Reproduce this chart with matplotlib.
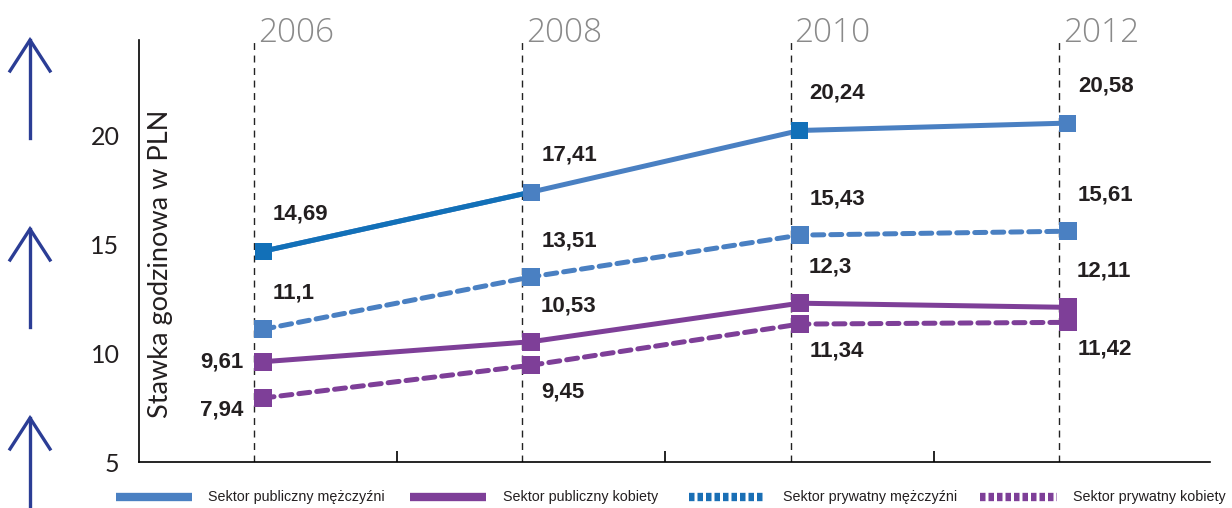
import matplotlib.pyplot as plt
from matplotlib.lines import Line2D
import numpy as np

years = [2006, 2008, 2010, 2012]
pub_men = [14.69, 17.41, 20.24, 20.58]
priv_men = [11.1, 13.51, 15.43, 15.61]
pub_women = [9.61, 10.53, 12.3, 12.11]
priv_women = [7.94, 9.45, 11.34, 11.42]

series_labels = ['Sektor publiczny mężczyźni', 'Sektor publiczny kobiety',
                 'Sektor prywatny mężczyźni', 'Sektor prywatny kobiety']
y_ticks = [5, 10, 15, 20]

BLUE = '#4a80c2'
BLUE_DARK = '#1270b8'
PURPLE = '#7e3f98'
NAVY = '#2b3d95'
NARROW = ['Liberation Sans', 'DejaVu Sans']
REG = ['Lato', 'DejaVu Sans']

W, H = 1232, 508
fig = plt.figure(figsize=(W / 100, H / 100), dpi=100)
ax = fig.add_axes([139 / W, 1 - 462 / H, (1210 - 139) / W, (462 - 40) / H])


def fmt(v):
    return ('%g' % v).replace('.', ',')


ax.set_xlim(2006 - 0.925, 2013.06)
ax.set_ylim(5, 24.4)

# vertical year guides + year labels
shift = 0.067
for yr in years:
    ax.axvline(yr - shift, color='#222222', lw=1, ls=(0, (5, 4)), zorder=1)
    ax.text(yr - shift + 0.03, 0.995, str(yr), transform=ax.get_xaxis_transform(),
            ha='left', va='baseline', fontsize=24, color='#8a8a8a',
            family=['Open Sans', 'DejaVu Sans'], fontweight='light')

dash = (0, (2.2, 1.4))
ax.plot(years, pub_men, color=BLUE, lw=3.6, zorder=3)
ax.plot(years[:2], pub_men[:2], color=BLUE_DARK, lw=3.6, zorder=3)
ax.plot(years, priv_men, color=BLUE, lw=3.6, ls=dash, dash_capstyle='round', zorder=3)
ax.plot(years, pub_women, color=PURPLE, lw=3.6, zorder=3)
ax.plot(years, priv_women, color=PURPLE, lw=3.6, ls=dash, dash_capstyle='round', zorder=3)

mcol = [BLUE_DARK, BLUE, BLUE_DARK, BLUE]
ax.scatter(years, pub_men, marker='s', s=150, c=mcol, zorder=4, linewidths=0)
ax.scatter(years, priv_men, marker='s', s=150, c=BLUE, zorder=4, linewidths=0)
ax.scatter(years, pub_women, marker='s', s=150, c=PURPLE, zorder=4, linewidths=0)
ax.scatter(years, priv_women, marker='s', s=150, c=PURPLE, zorder=4, linewidths=0)

lab_kw = dict(textcoords='offset pixels', fontsize=16, fontweight='bold',
              family=NARROW, color='#231f20', va='center')
for i, yr in enumerate(years):
    ax.annotate(fmt(pub_men[i]), (yr, pub_men[i]), xytext=(10, 37), ha='left', **lab_kw)
    ax.annotate(fmt(priv_men[i]), (yr, priv_men[i]), xytext=(10, 36), ha='left', **lab_kw)
    if i == 0:
        ax.annotate(fmt(pub_women[i]), (yr, pub_women[i]), xytext=(-20, 0), ha='right', **lab_kw)
        ax.annotate(fmt(priv_women[i]), (yr, priv_women[i]), xytext=(-20, -12), ha='right', **lab_kw)
    else:
        ax.annotate(fmt(pub_women[i]), (yr, pub_women[i]), xytext=(9, 36), ha='left', **lab_kw)
        ax.annotate(fmt(priv_women[i]), (yr, priv_women[i]), xytext=(10, -27), ha='left', **lab_kw)

# axes styling
for s in ['top', 'right']:
    ax.spines[s].set_visible(False)
ax.spines['left'].set_linewidth(1.2)
ax.spines['bottom'].set_linewidth(1.2)
ax.set_xticks([2007, 2009, 2011])
ax.set_xticklabels([])
ax.tick_params(axis='x', direction='in', length=8, width=1.2)
ax.set_yticks(y_ticks)
ax.set_yticklabels([str(t) for t in y_ticks], fontsize=18, family=REG, color='#231f20')
ax.tick_params(axis='y', length=0, pad=14)
ax.text(0.02, 0.47, 'Stawka godzinowa w PLN', transform=ax.transAxes, rotation=90,
        ha='center', va='center', fontsize=19.5, family=REG, color='#231f20')

# decorative arrows on the left
for top in [40, 229, 418]:
    bot = min(top + 98, H)
    fig.add_artist(Line2D([30 / W, 30 / W], [1 - top / H, 1 - bot / H], color=NAVY, lw=2.4))
    fig.add_artist(Line2D([10 / W, 30 / W, 50 / W], [1 - (top + 31) / H, 1 - top / H, 1 - (top + 31) / H],
                          color=NAVY, lw=2.4, solid_joinstyle='miter'))

# legend drawn manually
leg_y = 1 - 497 / H
dots = (0, (0.66, 0.36))
handles = [(116, 192, BLUE, '-'), (410, 486, PURPLE, '-'),
           (689, 765, '#1a6fb5', dots), (980, 1057, PURPLE, dots)]
text_x = [208, 503, 783, 1073]
for (x0, x1, c, ls), tx, lab in zip(handles, text_x, series_labels):
    fig.add_artist(Line2D([x0 / W, x1 / W], [leg_y, leg_y], color=c, lw=6, ls=ls,
                          solid_capstyle='butt', dash_capstyle='butt'))
    fig.text(tx / W, leg_y, lab, ha='left', va='center', fontsize=10.3, family=NARROW, color='#231f20')

fig.savefig('out.png', dpi=100)
